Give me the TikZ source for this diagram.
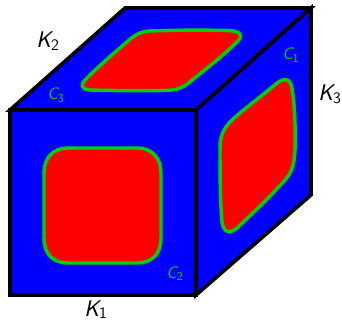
\documentclass[tikz,border=0pt]{standalone}
\definecolor{cubeblue}{RGB}{0,0,255}
\definecolor{loopgreen}{RGB}{0,210,0}
\newcommand{\lab}[3]{#1\raisebox{-2.2pt}{\fontsize{#3}{#3}\selectfont\upshape #2}}
\tikzset{
  face/.style={fill=cubeblue,draw=black,line width=2.7pt,line join=miter},
  patch/.style={fill=red,draw=loopgreen,line width=2.6pt,line join=round},
  curvelabel/.style={text=loopgreen,anchor=base west,font=\sffamily\itshape\fontsize{12.5}{12.5}\selectfont,inner sep=0pt},
  edgelabel/.style={text=black,anchor=base west,font=\sffamily\itshape\fontsize{17}{17}\selectfont,inner sep=0pt}
}
\begin{document}
\begin{tikzpicture}[x=0.75pt,y=-0.75pt]
\useasboundingbox (0,0) rectangle (342,320);
% faces
\draw[face] (10,110) -- (125,8) -- (311,8) -- (196,110) -- cycle;
\draw[face] (196,110) -- (311,8) -- (311,195) -- (196,295) -- cycle;
\draw[face] (10,110) rectangle (196,295);
% front patch
\draw[patch] (68,148) -- (137,148)
  .. controls (152,148) and (161,158) .. (161,173) -- (161,238)
  .. controls (161,254) and (152,263) .. (137,263) -- (68,263)
  .. controls (53,263) and (44,254) .. (44,238) -- (44,173)
  .. controls (44,158) and (53,148) .. (68,148) -- cycle;
% top patch
\draw[patch] (150,31)
  .. controls (175,30) and (205,30) .. (228,30.5)
  .. controls (240,31) and (244,35) .. (238,41)
  .. controls (225,54) and (205,70) .. (186,85)
  .. controls (178,90) and (172,90.5) .. (160,90.5)
  .. controls (135,91) and (110,90.5) .. (90,90)
  .. controls (81,89.5) and (80,85) .. (86,79)
  .. controls (100,65) and (113,54) .. (128,41)
  .. controls (136,34) and (141,31.5) .. (150,31) -- cycle;
% right patch
\draw[patch] (277,83)
  .. controls (285,77) and (291,79) .. (292,89)
  .. controls (295,105) and (295.5,130) .. (295,150)
  .. controls (294,166) and (292,172) .. (285,180)
  .. controls (270,197) and (252,214) .. (237,228)
  .. controls (229,234) and (224,233) .. (222,222)
  .. controls (220,200) and (220,170) .. (220,148)
  .. controls (220,136) and (223,129) .. (232,120)
  .. controls (245,108) and (262,96) .. (277,83) -- cycle;
% labels
\node[edgelabel] (k1) at (84,316) {\lab{K}{1}{12}};
\node[edgelabel] (k2) at (36,48) {\lab{K}{2}{12}};
\node[edgelabel] (k3) at (318,101) {\lab{K}{3}{12}};
\node[curvelabel] (c1) at (282,60) {\lab{C}{1}{9}};
\node[curvelabel] (c2) at (166,278) {\lab{C}{2}{9}};
\node[curvelabel] (c3) at (47,100) {\lab{C}{3}{9}};
\end{tikzpicture}
\end{document}
